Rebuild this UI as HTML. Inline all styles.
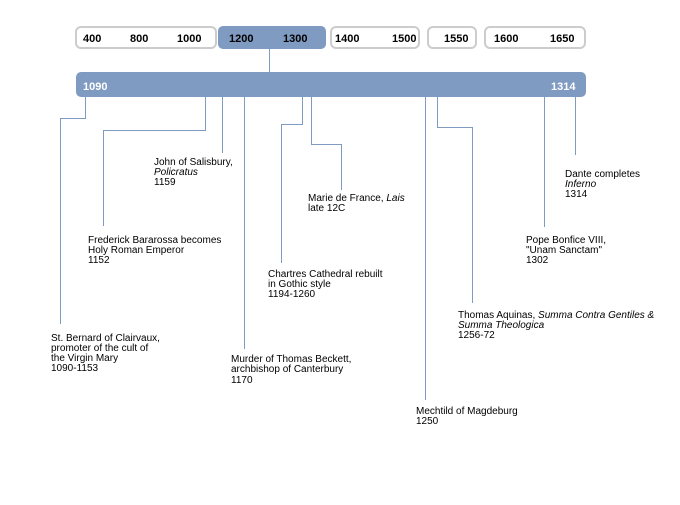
<!DOCTYPE html>
<html><head><meta charset="utf-8"><style>
body{margin:0;background:#fff}
svg text{font-family:"Liberation Sans",sans-serif;font-size:10px;fill:#000}
.b{font-weight:bold;font-size:11px}
</style></head><body>
<svg width="680" height="500" xmlns="http://www.w3.org/2000/svg">
<g fill="#fff" stroke="#ccc" stroke-width="2">
<rect x="76" y="27" width="140" height="21" rx="5"/>
<rect x="331" y="27" width="88" height="21" rx="5"/>
<rect x="428" y="27" width="48" height="21" rx="5"/>
<rect x="485" y="27" width="100" height="21" rx="5"/>
</g>
<rect x="218" y="26" width="108" height="23" rx="5" fill="#7f9bc1"/>
<rect x="76" y="72" width="510" height="25" rx="5" fill="#7f9bc1"/>
<g class="b">
<text x="83" y="42" class="b">400</text><text x="130" y="42" class="b">800</text><text x="177" y="42" class="b">1000</text>
<text x="229" y="42" class="b">1200</text><text x="283" y="42" class="b">1300</text>
<text x="335" y="42" class="b">1400</text><text x="392" y="42" class="b">1500</text>
<text x="444" y="42" class="b">1550</text>
<text x="494" y="42" class="b">1600</text><text x="550" y="42" class="b">1650</text>
<text x="83" y="90" class="b" style="fill:#fff">1090</text><text x="551" y="90" class="b" style="fill:#fff">1314</text>
</g>
<g stroke="#7f9bc1" stroke-width="1" fill="none">
<path d="M269.5 49V72"/>
<path d="M85.5 97V118.5H60.5V324"/>
<path d="M205.5 97V130.5H103.5V226"/>
<path d="M222.5 97V153"/>
<path d="M244.5 97V349"/>
<path d="M302.5 97V124.5H281.5V263"/>
<path d="M311.5 97V144.5H341.5V190"/>
<path d="M425.5 97V400"/>
<path d="M437.5 97V127.5H472.5V303"/>
<path d="M544.5 97V227"/>
<path d="M575.5 97V155"/>
</g>
<text x="51" y="341">St. Bernard of Clairvaux,</text><text x="51" y="351">promoter of the cult of</text><text x="51" y="361">the Virgin Mary</text><text x="51" y="371">1090-1153</text>
<text x="88" y="243">Frederick Bararossa becomes</text><text x="88" y="253">Holy Roman Emperor</text><text x="88" y="263">1152</text>
<text x="154" y="165">John of Salisbury,</text><text x="154" y="175" font-style="italic">Policratus</text><text x="154" y="185">1159</text>
<text x="231" y="362">Murder of Thomas Beckett,</text><text x="231" y="372">archbishop of Canterbury</text><text x="231" y="383">1170</text>
<text x="268" y="277">Chartres Cathedral rebuilt</text><text x="268" y="287">in Gothic style</text><text x="268" y="297">1194-1260</text>
<text x="308" y="201">Marie de France, <tspan font-style="italic">Lais</tspan></text><text x="308" y="211">late 12C</text>
<text x="416" y="414">Mechtild of Magdeburg</text><text x="416" y="424">1250</text>
<text x="458" y="318">Thomas Aquinas, <tspan font-style="italic">Summa Contra Gentiles &amp;</tspan></text><text x="458" y="328" font-style="italic">Summa Theologica</text><text x="458" y="338">1256-72</text>
<text x="526" y="243">Pope Bonfice VIII,</text><text x="526" y="253">"Unam Sanctam"</text><text x="526" y="263">1302</text>
<text x="565" y="177">Dante completes</text><text x="565" y="187" font-style="italic">Inferno</text><text x="565" y="197">1314</text>
</svg>
</body></html>
